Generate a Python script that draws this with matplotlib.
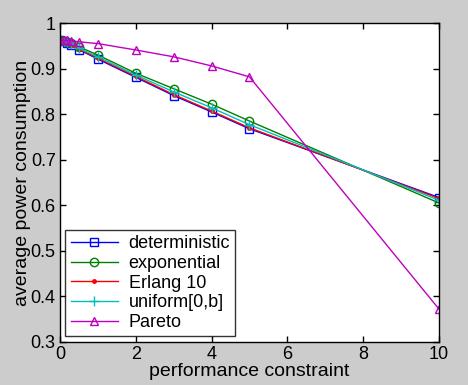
import matplotlib
matplotlib.use("Agg")
import matplotlib.pyplot as plt

plt.rcParams['font.family'] = ['Liberation Sans', 'DejaVu Sans']

x = [0, 0.1, 0.2, 0.3, 0.5, 1, 2, 3, 4, 5, 10]
deterministic = [0.962, 0.960, 0.957, 0.953, 0.942, 0.921, 0.881, 0.841, 0.805, 0.768, 0.617]
exponential = [0.962, 0.961, 0.959, 0.956, 0.948, 0.930, 0.890, 0.856, 0.822, 0.785, 0.605]
erlang10 = [0.962, 0.960, 0.957, 0.953, 0.943, 0.923, 0.883, 0.843, 0.807, 0.770, 0.615]
uniform = [0.962, 0.961, 0.958, 0.955, 0.945, 0.926, 0.886, 0.849, 0.814, 0.777, 0.611]
pareto = [0.963, 0.962, 0.962, 0.961, 0.959, 0.955, 0.941, 0.926, 0.906, 0.882, 0.372]

fig = plt.figure(figsize=(4.68, 3.85), dpi=100, facecolor='#cccccc')
ax = fig.add_axes([0.128, 0.112, 0.81, 0.828])

ax.plot(x, deterministic, color='#0000ff', marker='s', ms=6, mfc='none', lw=1, label='deterministic')
ax.plot(x, exponential, color='#008000', marker='o', ms=6, mfc='none', lw=1, label='exponential')
ax.plot(x, erlang10, color='#ff0000', marker='.', ms=5, lw=1, label='Erlang 10')
ax.plot(x, uniform, color='#00bfbf', marker='+', ms=7, lw=1, label='uniform[0,b]')
ax.plot(x, pareto, color='#bf00bf', marker='^', ms=6, mfc='none', lw=1, label='Pareto')

ax.set_xlim(0, 10)
ax.set_ylim(0.3, 1)
ax.set_xticks([0, 2, 4, 6, 8, 10])
ax.set_yticks([0.3, 0.4, 0.5, 0.6, 0.7, 0.8, 0.9, 1])
ax.set_yticklabels(['0.3', '0.4', '0.5', '0.6', '0.7', '0.8', '0.9', '1'])
ax.tick_params(direction='in', top=True, right=True, labelsize=13, length=4, width=1, pad=3)
for s in ax.spines.values():
    s.set_linewidth(1)
ax.set_xlabel('performance constraint', fontsize=14, labelpad=0)
ax.set_ylabel('average power consumption', fontsize=14, labelpad=0)

leg = ax.legend(loc='lower left', fontsize=13, frameon=True, fancybox=False,
                edgecolor='black', handlelength=2.6, borderpad=0.3, labelspacing=0.15,
                borderaxespad=0.3, handletextpad=0.6)
leg.get_frame().set_linewidth(1)

fig.savefig('out.png', dpi=100, facecolor=fig.get_facecolor())
